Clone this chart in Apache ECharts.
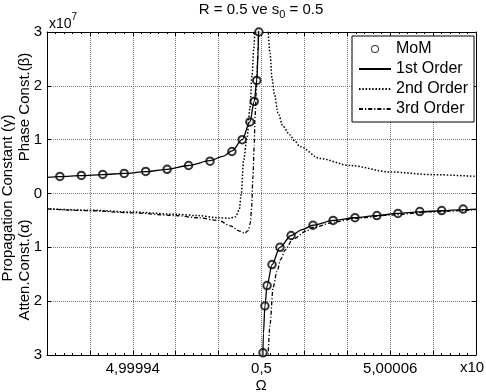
<!DOCTYPE html>
<html>
<head>
<meta charset="utf-8">
<script src="https://cdn.jsdelivr.net/npm/echarts@6/dist/echarts.min.js"></script>
<style>
  html, body { margin: 0; padding: 0; background: #fff; }
  #main { width: 486px; height: 392px; }
</style>
</head>
<body>
<div id="main"></div>
<script>
// x axis: offset from 0,5 in grid steps, only three ticks get a label
const omegaTickPos = [-3, 0, 3]
const omegaTickText = ['4,99994', '0,5', '5,00006']

// MoM samples [Ω offset, value x1e7]
const momUpper = [[-4.7, 0.317], [-4.2, 0.335], [-3.7, 0.354], [-3.2, 0.372], [-2.7, 0.41], [-2.2, 0.45],
  [-1.7, 0.52], [-1.2, 0.60], [-0.69, 0.78], [-0.45, 1.0], [-0.27, 1.33], [-0.17, 1.71], [-0.11, 2.1], [-0.06, 3.0]]
const momLower = [[0.035, -2.96], [0.08, -2.09], [0.13, -1.71], [0.245, -1.32], [0.43, -1.0], [0.69, -0.78],
  [1.2, -0.59], [1.67, -0.50], [2.18, -0.45], [2.69, -0.41], [3.18, -0.37], [3.69, -0.335], [4.2, -0.317], [4.7, -0.29]]

// 1st order (solid)
const firstUpper = [[-5, 0.30], [-4.7, 0.315], [-4.2, 0.333], [-3.7, 0.352], [-3.2, 0.372], [-2.7, 0.405], [-2.2, 0.45],
  [-1.7, 0.52], [-1.2, 0.61], [-0.9, 0.69], [-0.69, 0.79], [-0.45, 1.0], [-0.27, 1.33], [-0.17, 1.71], [-0.11, 2.1],
  [-0.08, 2.6], [-0.065, 3.1]]
const firstLower = [[0.03, -3.1], [0.045, -2.6], [0.08, -2.09], [0.13, -1.71], [0.245, -1.32], [0.43, -1.0], [0.69, -0.78],
  [0.95, -0.67], [1.2, -0.59], [1.67, -0.50], [2.18, -0.45], [2.69, -0.41], [3.18, -0.37], [3.69, -0.34], [4.2, -0.32],
  [4.7, -0.30], [5, -0.29]]

// 2nd order (dotted)
const secondLeft = [[-5, -0.285], [-4, -0.31], [-3, -0.345], [-2, -0.385], [-1.5, -0.41], [-1, -0.45], [-0.75, -0.46],
  [-0.6, -0.43], [-0.52, -0.3], [-0.47, 0.0], [-0.42, 0.6], [-0.34, 1.02], [-0.27, 1.58], [-0.22, 2.2], [-0.18, 2.7], [-0.15, 3.1]]
const secondRight = [[0.15, 3.1], [0.2, 2.6], [0.245, 2.14], [0.3, 1.85], [0.385, 1.5], [0.5, 1.25], [0.66, 1.09],
  [0.78, 0.97], [0.9, 0.87], [1.36, 0.65], [2.06, 0.52], [3, 0.40], [4, 0.35], [5, 0.317]]

// 3rd order (dash-dot)
const thirdLeft = [[-5, -0.285], [-4, -0.32], [-3, -0.36], [-2, -0.41], [-1.5, -0.45], [-1, -0.5], [-0.73, -0.6],
  [-0.5, -0.70], [-0.4, -0.74], [-0.31, -0.69], [-0.26, -0.55], [-0.23, -0.25], [-0.2, 0.3], [-0.17, 0.9],
  [-0.15, 1.45], [-0.11, 2.1], [-0.08, 2.7], [-0.07, 3.1]]
const thirdRight = [[0.15, -3.1], [0.2, -2.42], [0.27, -1.75], [0.36, -1.45], [0.45, -1.22], [0.55, -1.05], [0.73, -0.85],
  [1.06, -0.69], [1.2, -0.63], [1.7, -0.53], [2.2, -0.46], [3, -0.40], [4, -0.34], [5, -0.30]]

const FONT = 'Liberation Sans, Arial, sans-serif'
const chart = echarts.init(document.getElementById('main'))

// text width helper, used to put the subscript right after "s"
const ctx = document.createElement('canvas').getContext('2d')
const textWidth = (t, size) => {
  ctx.font = size + 'px ' + FONT
  return ctx.measureText(t).width
}

const lineSeries = (name, data, type, width) => ({
  name,
  type: 'line',
  data,
  symbol: 'none',
  smooth: 0.3,
  smoothMonotone: 'x',
  clip: true,
  z: 3,
  itemStyle: { color: '#000' },
  lineStyle: { color: '#000', width: width || 1.3, type }
})

const gridLine = { show: true, lineStyle: { color: '#777', width: 1, type: [1, 1] } }

const xBase = {
  type: 'value', min: -5, max: 5, interval: 1,
  axisLine: { show: true, onZero: false, lineStyle: { color: '#000', width: 1 } },
  axisTick: { show: true, inside: true, length: 4, lineStyle: { color: '#000' } },
  minorTick: { show: true, splitNumber: 5, length: 2, lineStyle: { color: '#000' } }
}
const yBase = {
  type: 'value', min: -3, max: 3, interval: 1,
  axisLine: { show: true, onZero: false, lineStyle: { color: '#000', width: 1 } },
  axisTick: { show: true, inside: true, length: 4, lineStyle: { color: '#000' } }
}

// title pieces: "R = 0.5 ve s" + sub "0" + " = 0.5"
const titleA = 'R = 0.5 ve s'
const titleB = '0'
const titleC = ' = 0.5'
const wA = textWidth(titleA, 15)
const wB = textWidth(titleB, 11)
const wC = textWidth(titleC, 15)
const titleLeft = 261 - (wA + wB + wC) / 2

// legend line items: hide the default dot on the icon
const noDot = { color: 'rgba(0,0,0,0)', borderWidth: 0, opacity: 0 }
// thin ring for the MoM legend icon
const ringIcon = 'path://M0,-4A4,4 0 1,1 0,4A4,4 0 1,1 0,-4ZM0,-3.05A3.05,3.05 0 1,0 0,3.05A3.05,3.05 0 1,0 0,-3.05Z'

const option = {
  animation: false,
  backgroundColor: '#fff',
  textStyle: { fontFamily: FONT },
  grid: { left: 47, right: 10, top: 32, bottom: 37 },
  xAxis: [
    Object.assign({}, xBase, {
      position: 'bottom',
      splitLine: gridLine,
      axisLabel: {
        margin: 6, fontSize: 15, color: '#000', fontFamily: FONT,
        formatter: v => {
          const i = omegaTickPos.indexOf(Math.round(v))
          return i >= 0 && Math.abs(v - omegaTickPos[i]) < 1e-6 ? omegaTickText[i] : ''
        }
      }
    }),
    Object.assign({}, xBase, { position: 'top', splitLine: { show: false }, axisLabel: { show: false } })
  ],
  yAxis: [
    Object.assign({}, yBase, {
      position: 'left',
      splitLine: gridLine,
      axisLabel: {
        margin: 5, fontSize: 15, color: '#000', fontFamily: FONT,
        showMinLabel: true, showMaxLabel: true,
        formatter: v => String(Math.abs(Math.round(v)))
      }
    }),
    Object.assign({}, yBase, { position: 'right', splitLine: { show: false }, axisLabel: { show: false } })
  ],
  legend: {
    data: [
      { name: 'MoM', icon: ringIcon, itemStyle: { color: '#000', borderWidth: 0 } },
      { name: '1st Order', itemStyle: noDot },
      { name: '2nd Order', itemStyle: noDot },
      { name: '3rd Order', itemStyle: noDot }
    ],
    orient: 'vertical',
    left: 352,
    top: 36,
    padding: [5, 6, 5, 6],
    itemWidth: 32,
    itemHeight: 8,
    itemGap: 4,
    selectedMode: false,
    backgroundColor: '#fff',
    borderColor: '#000',
    borderWidth: 1,
    borderRadius: 0,
    textStyle: { fontSize: 16, color: '#000', fontFamily: FONT, lineHeight: 16 }
  },
  series: [
    {
      name: 'MoM', type: 'scatter', data: momUpper.concat(momLower),
      symbol: 'emptyCircle', symbolSize: 7.5, z: 1,
      itemStyle: { color: '#000', borderColor: '#000', borderWidth: 0.9 }
    },
    lineSeries('1st Order', firstUpper, 'solid'),
    lineSeries('1st Order', firstLower, 'solid'),
    lineSeries('2nd Order', secondLeft, [1.5, 1.8], 1.5),
    lineSeries('2nd Order', secondRight, [1.5, 1.8], 1.5),
    lineSeries('3rd Order', thirdLeft, [4, 2, 1.2, 2]),
    lineSeries('3rd Order', thirdRight, [4, 2, 1.2, 2])
  ],
  graphic: [
    {
      type: 'text', x: titleLeft, y: 10,
      style: { text: titleA, fontSize: 15, fontFamily: FONT, fill: '#000', align: 'left', verticalAlign: 'middle' }
    },
    {
      type: 'text', x: titleLeft + wA, y: 15,
      style: { text: titleB, fontSize: 11, fontFamily: FONT, fill: '#000', align: 'left', verticalAlign: 'middle' }
    },
    {
      type: 'text', x: titleLeft + wA + wB, y: 10,
      style: { text: titleC, fontSize: 15, fontFamily: FONT, fill: '#000', align: 'left', verticalAlign: 'middle' }
    },
    {
      type: 'text', x: 49, y: 24,
      style: { text: 'x10', fontSize: 14, fontFamily: FONT, fill: '#000', align: 'left', verticalAlign: 'middle' }
    },
    {
      type: 'text', x: 49 + textWidth('x10', 14), y: 17,
      style: { text: '7', fontSize: 10, fontFamily: FONT, fill: '#000', align: 'left', verticalAlign: 'middle' }
    },
    {
      type: 'text', x: 460, y: 368,
      style: { text: 'x10', fontSize: 15, fontFamily: FONT, fill: '#000', align: 'left', verticalAlign: 'middle' }
    },
    {
      type: 'text', x: 261, y: 386,
      style: { text: 'Ω', fontSize: 15, fontFamily: FONT, fill: '#000', align: 'center', verticalAlign: 'middle' }
    },
    {
      type: 'text', x: 8, y: 198, rotation: Math.PI / 2,
      style: { text: 'Propagation Constant (γ)', fontSize: 15, fontFamily: FONT, fill: '#000', align: 'center', verticalAlign: 'middle' }
    },
    {
      type: 'text', x: 25, y: 107, rotation: Math.PI / 2,
      style: { text: 'Phase Const.(β)', fontSize: 15, fontFamily: FONT, fill: '#000', align: 'center', verticalAlign: 'middle' }
    },
    {
      type: 'text', x: 25, y: 270, rotation: Math.PI / 2,
      style: { text: 'Atten.Const.(α)', fontSize: 15, fontFamily: FONT, fill: '#000', align: 'center', verticalAlign: 'middle' }
    }
  ]
}

chart.setOption(option)
</script>
</body>
</html>
